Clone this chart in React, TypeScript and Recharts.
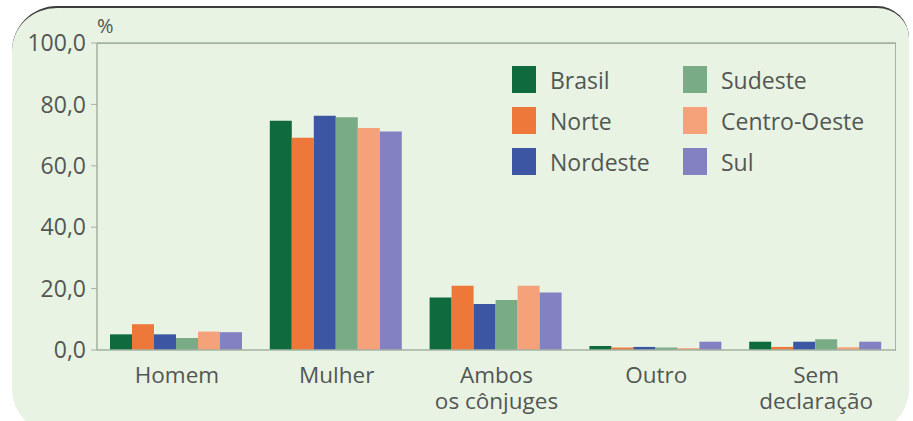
import React from 'react'
import { BarChart, Bar, XAxis, YAxis, ReferenceLine } from 'recharts'

const categorias = ['Homem', 'Mulher', 'Ambos\nos cônjuges', 'Outro', 'Sem\ndeclaração']
const brasil = [5.1, 74.7, 17.1, 1.3, 2.7]
const norte = [8.4, 69.1, 20.9, 0.8, 1.0]
const nordeste = [5.1, 76.3, 15.0, 1.0, 2.7]
const sudeste = [3.9, 75.8, 16.3, 0.8, 3.5]
const centroOeste = [6.0, 72.3, 20.9, 0.6, 0.9]
const sul = [5.8, 71.2, 18.7, 2.7, 2.7]
const yTicks = [0, 20, 40, 60, 80, 100]

const series = [
  { key: 'brasil', nome: 'Brasil', cor: '#0f6a3e', valores: brasil },
  { key: 'norte', nome: 'Norte', cor: '#ee773a', valores: norte },
  { key: 'nordeste', nome: 'Nordeste', cor: '#3d56a4', valores: nordeste },
  { key: 'sudeste', nome: 'Sudeste', cor: '#79ab87', valores: sudeste },
  { key: 'centroOeste', nome: 'Centro-Oeste', cor: '#f5a27a', valores: centroOeste },
  { key: 'sul', nome: 'Sul', cor: '#8282c3', valores: sul },
]

const data = categorias.map((c, i) => {
  const row: any = { categoria: c }
  series.forEach((s) => (row[s.key] = s.valores[i]))
  return row
})

const FONT = '"Open Sans", Lato, sans-serif'
const TEXTO = '#535753'
const MOLDURA = '#a3b3a0'

// rótulos de categoria em até duas linhas
function CategoriaTick({ x, y, payload }: any) {
  const linhas = String(payload.value).split('\n')
  return (
    <g>
      {linhas.map((l, i) => (
        <text key={i} x={x} y={y + 25 + i * 26} textAnchor="middle" fill={TEXTO} fontSize={22.5} fontFamily={FONT}>
          {l}
        </text>
      ))}
    </g>
  )
}

function LegendaRegioes() {
  const colunas = [series.slice(0, 3), series.slice(3)]
  return (
    <div style={{ display: 'flex', fontFamily: FONT, fontSize: 23, color: TEXTO }}>
      {colunas.map((col, ci) => (
        <div key={ci} style={{ width: ci === 0 ? 171 : 'auto' }}>
          {col.map((s) => (
            <div key={s.key} style={{ display: 'flex', alignItems: 'center', height: 41 }}>
              <span style={{ width: 24, height: 27, background: s.cor, marginRight: 14, display: 'inline-block', flex: 'none' }} />
              <span style={{ whiteSpace: 'nowrap' }}>{s.nome}</span>
            </div>
          ))}
        </div>
      ))}
    </div>
  )
}

export default function App() {
  return (
    <div style={{ position: 'absolute', left: 0, top: 0, width: 913, height: 421, overflow: 'hidden', background: '#fff' }}>
      <div
        style={{
          position: 'absolute',
          left: 12,
          top: 6,
          width: 897,
          height: 424,
          background: '#e8f3e4',
          borderTop: '2px solid #3c3c3c',
          borderRadius: '45px 32px 42px 42px',
        }}
      />
      <div style={{ position: 'absolute', left: 97, top: 12, fontFamily: FONT, fontSize: 20, color: TEXTO }}>%</div>
      {/* moldura superior e direita da área do gráfico */}
      <div
        style={{
          position: 'absolute',
          left: 97,
          top: 43,
          width: 798,
          height: 307,
          borderTop: `1.5px solid ${MOLDURA}`,
          borderRight: `1.5px solid ${MOLDURA}`,
        }}
      />
      <div style={{ position: 'absolute', left: 0, top: 0 }}>
        <BarChart
          width={913}
          height={421}
          data={data}
          margin={{ top: 43, right: 17, left: 10, bottom: 11 }}
          barCategoryGap={13}
          barGap={0}
        >
          <XAxis
            dataKey="categoria"
            axisLine={{ stroke: MOLDURA, strokeWidth: 1.5 }}
            tickLine={false}
            tick={<CategoriaTick />}
            height={60}
            interval={0}
          />
          <YAxis
            domain={[0, 100]}
            ticks={yTicks}
            width={87}
            axisLine={{ stroke: MOLDURA, strokeWidth: 1.5 }}
            tickLine={{ stroke: MOLDURA }}
            tickSize={6}
            tickMargin={5}
            tick={{ fill: TEXTO, fontSize: 23, fontFamily: FONT }}
            tickFormatter={(v: number) => v.toFixed(1).replace('.', ',')}
          />
          <ReferenceLine y={100} stroke={MOLDURA} strokeWidth={1.5} />
          {series.map((s) => (
            <Bar key={s.key} dataKey={s.key} name={s.nome} fill={s.cor} isAnimationActive={false} />
          ))}
        </BarChart>
      </div>
      <div style={{ position: 'absolute', left: 512, top: 59 }}>
        <LegendaRegioes />
      </div>
    </div>
  )
}
